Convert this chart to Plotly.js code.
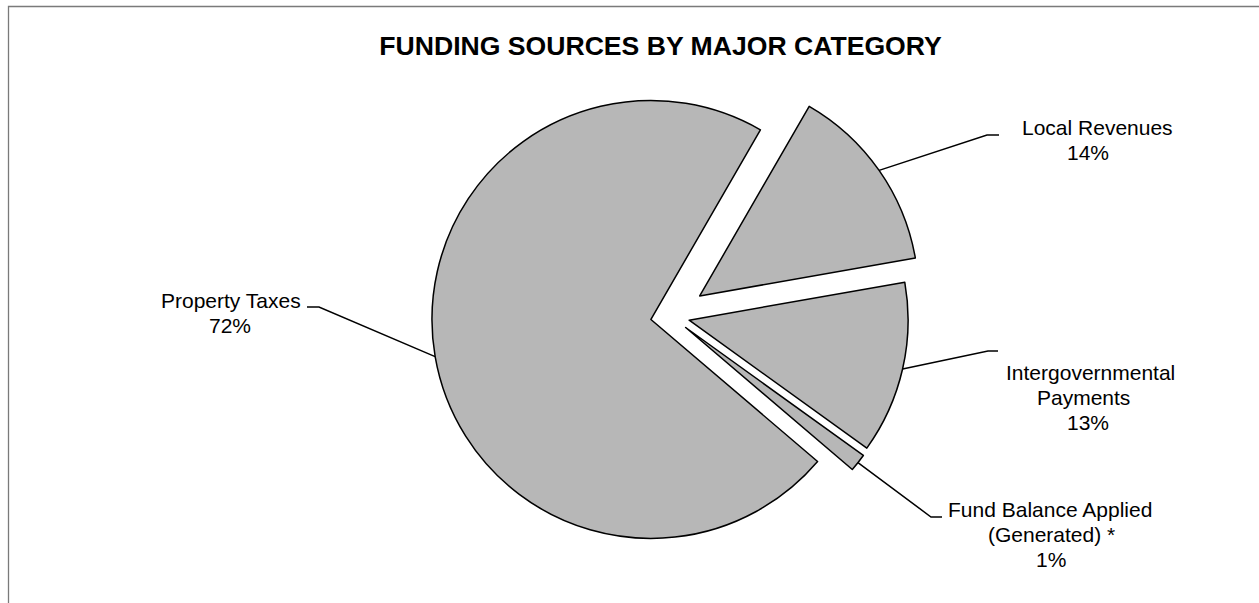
<!DOCTYPE html>
<html>
<head>
<meta charset="utf-8">
<script src="https://cdn.plot.ly/plotly-3.0.1.min.js"></script>
<style>
  html, body { margin: 0; padding: 0; background: #ffffff; }
  #chart { width: 1259px; height: 603px; }
</style>
</head>
<body>
<div id="chart"></div>
<script>
// ---- data ----
const categories = ['Local Revenues', 'Intergovernmental Payments', 'Fund Balance Applied (Generated) *', 'Property Taxes'];
const values = [13.9, 12.7, 1.3, 72.1];
const labelLines = [
  ['Local Revenues'],
  ['Intergovernmental', 'Payments'],
  ['Fund Balance Applied', '(Generated) *'],
  ['Property Taxes']
];
const pulls = [0.16, 0.085, 0.085, 0.093];

// ---- layout constants (pixels) ----
const W = 1259, H = 603;
const CX = 671, CY = 316, RX = 300, RY = 254;
const ROT = 30; // degrees clockwise from 12 o'clock
const FONT = 'Liberation Sans, Arial, sans-serif';
const fx = p => p / W;
const fy = p => 1 - p / H;

// label placement: line centre x list, first line y, elbow and end of leader line
const labelPos = [
  { xs: [1097, 1088], y0: 127.5, elbow: [987, 135], end: [999, 135] },
  { xs: [1090, 1083, 1088], y0: 372, elbow: [988, 351], end: [998, 351] },
  { xs: [1050, 1051, 1051], y0: 509.5, elbow: [931, 517], end: [942, 517] },
  { xs: [230.5, 230], y0: 300, elbow: [319, 307], end: [307, 307] }
];
const STEP = 25;

const total = values.reduce((a, b) => a + b, 0);
const maxPull = Math.max(...pulls);
const R = Math.min(RX, RY) / (1 + maxPull);

const annotations = [];
const shapes = [];

// frame
shapes.push({
  type: 'rect', xref: 'paper', yref: 'paper',
  x0: fx(8.5), x1: fx(W + 20), y0: fy(H + 20), y1: fy(6.5),
  line: { color: '#7a7a7a', width: 1.3 }, fillcolor: 'rgba(0,0,0,0)', layer: 'below'
});

let cum = 0;
values.forEach((v, i) => {
  const midFrac = (cum + v / 2) / total;
  cum += v;
  const ang = (ROT + midFrac * 360) * Math.PI / 180; // clockwise from top
  const dx = Math.sin(ang), dy = -Math.cos(ang);
  const px = CX + (1 + pulls[i]) * R * dx;
  const py = CY + (1 + pulls[i]) * R * dy;
  const lp = labelPos[i];
  shapes.push({
    type: 'path', xref: 'paper', yref: 'paper',
    path: `M ${fx(px)} ${fy(py)} L ${fx(lp.elbow[0])} ${fy(lp.elbow[1])} L ${fx(lp.end[0])} ${fy(lp.end[1])}`,
    line: { color: '#000000', width: 1.5 }
  });
  const lines = labelLines[i].concat([Math.round(v / total * 100) + '%']);
  lines.forEach((t, k) => {
    annotations.push({
      xref: 'paper', yref: 'paper',
      x: fx(lp.xs[k]), y: fy(lp.y0 + k * STEP),
      xanchor: 'center', yanchor: 'middle',
      text: t, showarrow: false,
      font: { family: FONT, size: 21, color: '#000000' }
    });
  });
});

const trace = {
  type: 'pie',
  labels: categories,
  values: values,
  sort: false,
  direction: 'clockwise',
  rotation: ROT,
  pull: pulls,
  textinfo: 'none',
  hoverinfo: 'label+percent',
  marker: {
    colors: categories.map(() => '#b7b7b7'),
    line: { color: '#000000', width: 1.5 }
  },
  domain: {
    x: [fx(CX - RX), fx(CX + RX)],
    y: [fy(CY + RY), fy(CY - RY)]
  }
};

const layout = {
  width: W, height: H,
  margin: { l: 0, r: 0, t: 0, b: 0 },
  paper_bgcolor: '#ffffff',
  showlegend: false,
  title: {
    text: 'FUNDING SOURCES BY MAJOR CATEGORY',
    font: { family: FONT, size: 26.6, color: '#000000', weight: 'bold' },
    x: fx(660.5), xanchor: 'center', xref: 'paper',
    y: fy(46), yanchor: 'middle', yref: 'container'
  },
  annotations: annotations,
  shapes: shapes
};

Plotly.newPlot('chart', [trace], layout, { displayModeBar: false, staticPlot: true });
</script>
</body>
</html>
